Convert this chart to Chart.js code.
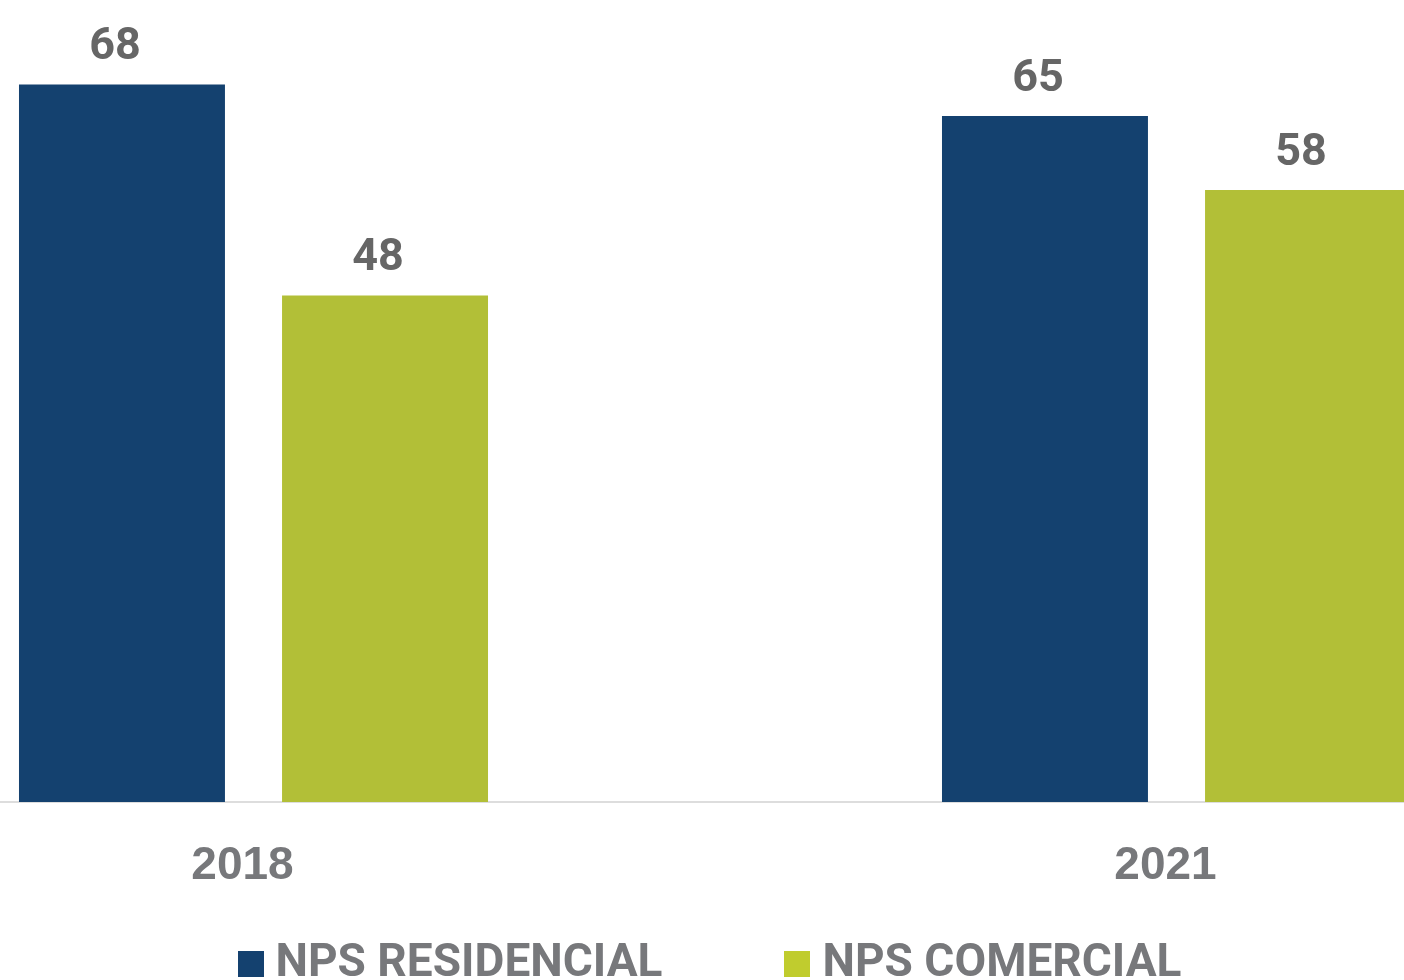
<!DOCTYPE html>
<html>
<head>
<meta charset="utf-8">
<script src="https://cdn.jsdelivr.net/npm/chart.js@4.4.0/dist/chart.umd.min.js"></script>
<style>
  html, body { margin: 0; padding: 0; background: #fff; overflow: hidden; }
  .wrap { position: relative; width: 1404px; height: 980px; overflow: hidden; }
  .wrap canvas { position: absolute; left: -208px; top: 0; }
</style>
</head>
<body>
<div class="wrap"><canvas id="npsChart" width="1846" height="997"></canvas></div>
<script>
const years = ['2018', '2021'];
const residencial = [68, 65];
const comercial = [48, 58];
const seriesNames = ['NPS RESIDENCIAL', 'NPS COMERCIAL'];

const barColors = ['#14416f', '#b2bf37'];
const swatchColors = ['#14416f', '#c0cc2e'];

// square swatch used as the legend point style
function legendSwatch(color) {
  const c = document.createElement('canvas');
  c.width = 26;
  c.height = 26;
  const g = c.getContext('2d');
  g.fillStyle = color;
  g.fillRect(0, 0, 26, 26);
  return c;
}

// numbers above each bar
const valueLabels = {
  id: 'valueLabels',
  afterDatasetsDraw(chart) {
    const ctx = chart.ctx;
    ctx.save();
    ctx.font = 'bold 45px Roboto';
    ctx.fillStyle = '#666666';
    ctx.textAlign = 'center';
    ctx.textBaseline = 'alphabetic';
    chart.data.datasets.forEach((ds, i) => {
      chart.getDatasetMeta(i).data.forEach((bar, j) => {
        ctx.fillText(ds.data[j], bar.x - 7, bar.y - 25);
      });
    });
    ctx.restore();
  }
};

// the x axis is kept thin so the legend sits close under it;
// widen its box again so the year labels are not clipped away
const yearLabelRoom = {
  id: 'yearLabelRoom',
  afterLayout(chart) {
    const x = chart.scales.x;
    x.bottom = x.top + 120;
  }
};

new Chart(document.getElementById('npsChart'), {
  type: 'bar',
  data: {
    labels: years,
    datasets: [
      { label: seriesNames[0], data: residencial, backgroundColor: barColors[0] },
      { label: seriesNames[1], data: comercial, backgroundColor: barColors[1] }
    ]
  },
  options: {
    responsive: false,
    animation: false,
    barPercentage: 0.783,
    categoryPercentage: 0.57,
    layout: { padding: 0 },
    scales: {
      y: { display: false, min: 0, max: 76 },
      x: {
        grid: { display: false, drawTicks: false },
        border: { display: true, color: '#dddddd', width: 2 },
        ticks: {
          color: '#77787b',
          font: { family: 'Liberation Sans', weight: 'bold', size: 46 },
          padding: 37,
          labelOffset: -11,
          maxRotation: 0
        },
        afterFit(scale) { scale.height = 6; }
      }
    },
    plugins: {
      tooltip: { enabled: false },
      legend: {
        position: 'bottom',
        labels: {
          usePointStyle: true,
          boxWidth: 4,
          padding: 133,
          color: '#77787b',
          font: { family: 'Roboto', weight: 'bold', size: 46 },
          generateLabels(chart) {
            return chart.data.datasets.map((ds, i) => ({
              text: ds.label,
              fillStyle: swatchColors[i],
              strokeStyle: swatchColors[i],
              lineWidth: 0,
              pointStyle: legendSwatch(swatchColors[i]),
              hidden: false,
              datasetIndex: i,
              fontColor: '#77787b'
            }));
          }
        }
      }
    }
  },
  plugins: [valueLabels, yearLabelRoom]
});
</script>
</body>
</html>
